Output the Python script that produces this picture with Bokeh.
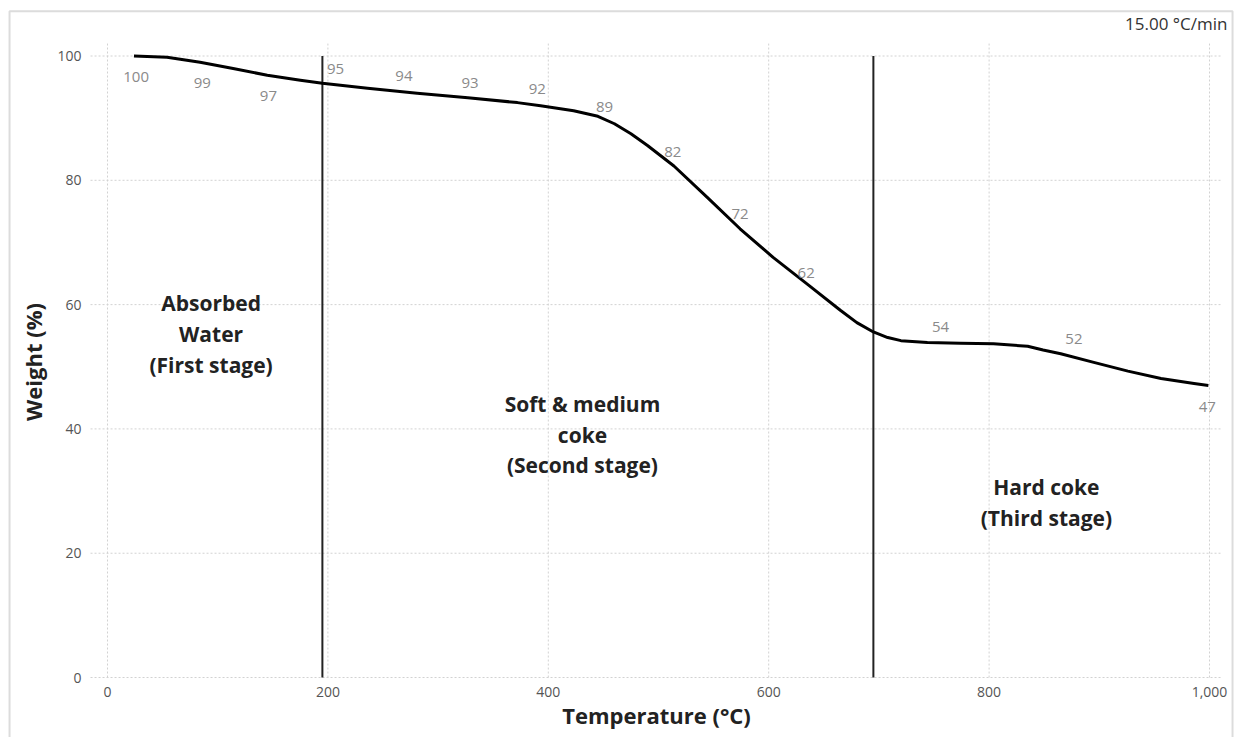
from bokeh.plotting import figure
from bokeh.models import BoxAnnotation, NumeralTickFormatter, Range1d, ColumnDataSource, FixedTicker, Label
from bokeh.core.properties import value
from bokeh.embed import file_html
from bokeh.resources import INLINE

# ---- data ----
temperature = [24, 54, 84, 114, 145, 175, 195, 236, 281, 327, 372, 393, 423, 445, 460, 475,
               490, 514, 544, 574, 604, 635, 665, 680, 695, 708, 720, 744, 774, 804, 835, 849,
               865, 895, 926, 956, 986, 999]
weight = [100.0, 99.8, 99.0, 98.0, 96.9, 96.1, 95.6, 94.8, 94.0, 93.3, 92.5, 92.0, 91.2, 90.3, 89.1, 87.5,
          85.6, 82.3, 77.3, 72.2, 67.6, 63.3, 59.1, 57.1, 55.6, 54.7, 54.2, 53.9, 53.8, 53.7, 53.3, 52.7,
          52.1, 50.7, 49.3, 48.1, 47.3, 47.0]

label_temp = [26, 86, 146, 207, 269, 329, 390, 451, 513, 574, 634, 756, 877, 998]
label_weight = [100, 99, 97, 95, 94, 93, 92, 89, 82, 72, 62, 54, 52, 47]

stage_bounds = [195, 695]
stage_names = ["Absorbed\nWater\n(First stage)", "Soft & medium\ncoke\n(Second stage)", "Hard coke\n(Third stage)"]

x_ticks = [0, 200, 400, 600, 800, 1000]
y_ticks = [0, 20, 40, 60, 80, 100]

heating_rate = "15.00 °C/min"
x_title = "Temperature (°C)"
y_title = "Weight (%)"

# ---- layout / styling ----
X_VIEW = (-97.1, 1023.6)      # whole canvas is the plotting frame
Y_VIEW = (-9.65, 108.93)
X_AREA = (-15.4, 1011.8)      # visible chart area (grid extent)
Y_AREA = (-0.5, 102.0)
BORDER = dict(left=-88.9, right=1020.9, top=107.2, bottom=-30)
label_dy = [21, 21, 21, -18, -17, -17, -17, -17, -16, -16, -19, -15, -15, 22]
stage_pos_x = [94, 431, 852]
stage_pos_y = [55.3, 39.1, 28.2]

FONT = "Open Sans"
GRID_COLOR = "#d2d2d2"

p = figure(width=1235, height=737,
           x_range=Range1d(*X_VIEW), y_range=Range1d(*Y_VIEW),
           output_backend="svg", toolbar_location=None, min_border=0)
p.min_border_left = 0
p.min_border_right = 0
p.min_border_top = 0
p.min_border_bottom = 0
p.outline_line_color = None
p.background_fill_color = "white"
p.border_fill_color = "white"
p.xgrid.visible = False
p.ygrid.visible = False

# dotted grid restricted to the chart area
p.segment(x0=x_ticks, y0=[0] * len(x_ticks), x1=x_ticks, y1=[Y_AREA[1]] * len(x_ticks),
          line_color=GRID_COLOR, line_dash="2 2", line_width=1)
p.segment(x0=[X_AREA[0]] * len(y_ticks), y0=y_ticks, x1=[X_AREA[1]] * len(y_ticks), y1=y_ticks,
          line_color=GRID_COLOR, line_dash="2 2", line_width=1)

# axes drawn inside the canvas at fixed places
p.xaxis.fixed_location = Y_AREA[0]
p.yaxis.fixed_location = X_AREA[0]
p.xaxis.bounds = X_AREA
p.yaxis.bounds = Y_AREA
p.xaxis.ticker = FixedTicker(ticks=x_ticks)
p.yaxis.ticker = FixedTicker(ticks=y_ticks)
p.xaxis.formatter = NumeralTickFormatter(format="0,0")
for ax in (p.xaxis, p.yaxis):
    ax.axis_line_color = None
    ax.major_tick_line_color = None
    ax.minor_tick_line_color = None
    ax.major_tick_out = 0
    ax.major_tick_in = 0
    ax.major_label_text_font = FONT
    ax.major_label_text_font_size = "14px"
    ax.major_label_text_color = "#555555"
    ax.axis_label_text_font = FONT
    ax.axis_label_text_font_style = "bold"
    ax.axis_label_text_font_size = "22px"
    ax.axis_label_text_color = "#222222"
p.xaxis.major_label_standoff = 6
p.yaxis.major_label_standoff = 9
p.xaxis.axis_label = x_title
p.yaxis.axis_label = y_title
p.xaxis.axis_label_standoff = 0
p.yaxis.axis_label_standoff = 6

# stage boundaries
p.segment(x0=stage_bounds, y0=[0] * len(stage_bounds), x1=stage_bounds, y1=[100] * len(stage_bounds),
          line_color="#222222", line_width=2)

# TGA curve
p.line(temperature, weight, line_color="black", line_width=3, line_join="round")

# value labels
lsrc = ColumnDataSource(dict(x=label_temp, y=label_weight,
                             t=[str(v) for v in label_weight], dy=label_dy))
p.text(x="x", y="y", text="t", y_offset="dy", source=lsrc,
       text_font=value(FONT), text_font_size="15px", text_color="#8a8a8a",
       text_align="center", text_baseline="middle")

# stage names
ssrc = ColumnDataSource(dict(x=stage_pos_x, y=stage_pos_y, t=stage_names))
p.text(x="x", y="y", text="t", source=ssrc,
       text_font=value(FONT), text_font_style="bold", text_font_size="21px",
       text_color="#222222", text_align="center", text_baseline="middle",
       text_line_height=1.1)

# heating-rate note (top right)
p.add_layout(Label(x=1016.3, y=105.2, text=heating_rate, text_align="right",
                   text_baseline="middle", text_font=FONT, text_font_size="17px",
                   text_color="#333333"))

# outer frame
p.add_layout(BoxAnnotation(fill_alpha=0, line_color="#8a8a8a", line_width=2, **BORDER))

open("out.html", "w").write(file_html(p, INLINE))
